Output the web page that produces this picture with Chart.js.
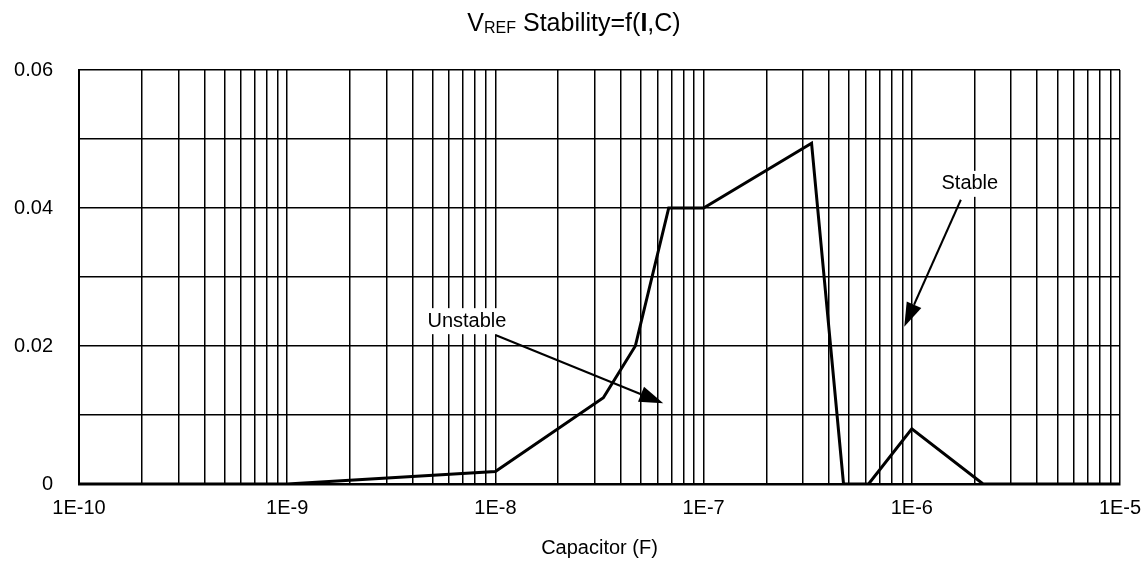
<!DOCTYPE html>
<html>
<head>
<meta charset="utf-8">
<script src="https://cdn.jsdelivr.net/npm/chart.js@4.4.1/dist/chart.umd.min.js"></script>
<style>
  html, body { margin: 0; padding: 0; background: #fff; }
  #wrap { width: 1144px; height: 564px; position: relative; }
</style>
</head>
<body>
<div id="wrap"><canvas id="chart"></canvas></div>
<script>
// values
const capacitance = [1e-10, 1e-9, 1e-8, 3.3e-8, 4.7e-8, 6.8e-8, 1e-7, 3.3e-7, 4.7e-7, 6.2e-7, 1e-6, 2.2e-6, 1e-5];
const stability = [0, 0, 0.0018, 0.0125, 0.02, 0.04, 0.04, 0.0494, 0, 0, 0.008, 0, 0];
const xTickLabels = ['1E-10', '1E-9', '1E-8', '1E-7', '1E-6', '1E-5'];
const yTickLabels = ['0', '0.02', '0.04', '0.06'];

// annotation text / arrow ends, in data units: [text, text x, text y, arrow from x, from y, to x, to y]
const unstableNote = ['Unstable', 7.3e-9, 0.0236, 1.0e-8, 0.0216, 6.4e-8, 0.0117];
const stableNote = ['Stable', 1.9e-6, 0.0435, 1.72e-6, 0.0412, 9.2e-7, 0.0228];

const FONT = '"Liberation Sans", Arial, sans-serif';

const points = capacitance.map((c, i) => ({x: c, y: stability[i]}));

// title with subscript and bold I
const titlePlugin = {
    id: 'vrefTitle',
    afterDraw(chart) {
        const ctx = chart.ctx;
        const parts = [
            {t: 'V', f: '25px ' + FONT, dy: 0},
            {t: 'REF', f: '16px ' + FONT, dy: 2},
            {t: ' Stability=f(', f: '25px ' + FONT, dy: 0},
            {t: 'I', f: 'bold 25px ' + FONT, dy: 0},
            {t: ',C)', f: '25px ' + FONT, dy: 0}
        ];
        ctx.save();
        ctx.fillStyle = '#000';
        ctx.textBaseline = 'alphabetic';
        let total = 0;
        parts.forEach(p => { ctx.font = p.f; p.w = ctx.measureText(p.t).width; total += p.w; });
        let x = 574 - total / 2;
        parts.forEach(p => {
            ctx.font = p.f;
            ctx.fillText(p.t, x, 31 + p.dy);
            x += p.w;
        });
        ctx.restore();
    }
};

const notesPlugin = {
    id: 'notes',
    afterDatasetsDraw(chart) {
        const ctx = chart.ctx;
        const xs = chart.scales.x, ys = chart.scales.y;
        [unstableNote, stableNote].forEach(n => {
            const tx = xs.getPixelForValue(n[1]), ty = ys.getPixelForValue(n[2]);
            const x1 = xs.getPixelForValue(n[3]), y1 = ys.getPixelForValue(n[4]);
            const x2 = xs.getPixelForValue(n[5]), y2 = ys.getPixelForValue(n[6]);
            ctx.save();
            // arrow shaft
            const ang = Math.atan2(y2 - y1, x2 - x1);
            const headLen = 24, headW = 8;
            ctx.strokeStyle = '#000';
            ctx.lineWidth = 2;
            ctx.beginPath();
            ctx.moveTo(x1, y1);
            ctx.lineTo(x2 - headLen * Math.cos(ang), y2 - headLen * Math.sin(ang));
            ctx.stroke();
            // arrow head
            ctx.fillStyle = '#000';
            ctx.beginPath();
            ctx.moveTo(x2, y2);
            ctx.lineTo(x2 - headLen * Math.cos(ang) + headW * Math.sin(ang), y2 - headLen * Math.sin(ang) - headW * Math.cos(ang));
            ctx.lineTo(x2 - headLen * Math.cos(ang) - headW * Math.sin(ang), y2 - headLen * Math.sin(ang) + headW * Math.cos(ang));
            ctx.closePath();
            ctx.fill();
            // label on white box
            ctx.font = '20px ' + FONT;
            const w = ctx.measureText(n[0]).width;
            ctx.fillStyle = '#fff';
            ctx.fillRect(tx - w / 2 - 3, ty - 13, w + 6, 26);
            ctx.fillStyle = '#000';
            ctx.textAlign = 'center';
            ctx.textBaseline = 'middle';
            ctx.fillText(n[0], tx, ty);
            ctx.restore();
        });
    }
};

new Chart(document.getElementById('chart'), {
    type: 'line',
    data: {
        datasets: [{
            data: points,
            borderColor: '#000',
            borderWidth: 3,
            pointRadius: 0,
            tension: 0,
            fill: false
        }]
    },
    plugins: [titlePlugin, notesPlugin],
    options: {
        responsive: true,
        maintainAspectRatio: false,
        animation: false,
        layout: {padding: {top: 70, right: 24, left: 0, bottom: 0}},
        plugins: {
            legend: {display: false},
            tooltip: {enabled: false}
        },
        scales: {
            x: {
                type: 'logarithmic',
                min: 1e-10,
                max: 1e-5,
                afterBuildTicks(scale) {
                    const ticks = [];
                    for (let e = -10; e < -5; e++) {
                        for (let m = 1; m < 10; m++) ticks.push({value: m * Math.pow(10, e)});
                    }
                    ticks.push({value: 1e-5});
                    scale.ticks = ticks;
                },
                afterFit(scale) {
                    scale.height = 80;
                    scale.paddingRight = 0;
                    scale.paddingLeft = 0;
                },
                ticks: {
                    autoSkip: false,
                    maxRotation: 0,
                    color: '#000',
                    font: {family: FONT, size: 20},
                    padding: 12,
                    callback(v) {
                        const e = Math.round(Math.log10(v));
                        if (Math.abs(v - Math.pow(10, e)) / v < 1e-6) return xTickLabels[e + 10];
                        return '';
                    }
                },
                grid: {color: '#000', lineWidth: 1.5, drawTicks: false},
                border: {color: '#000', width: 2.5},
                title: {
                    display: true,
                    text: 'Capacitor (F)',
                    color: '#000',
                    font: {family: FONT, size: 20},
                    padding: {top: 20}
                }
            },
            y: {
                min: 0,
                max: 0.06,
                afterFit(scale) { scale.width = 79; },
                ticks: {
                    stepSize: 0.01,
                    color: '#000',
                    font: {family: FONT, size: 20},
                    padding: 26,
                    callback(v) {
                        const k = Math.round(v * 100);
                        return k % 2 === 0 ? yTickLabels[k / 2] : '';
                    }
                },
                grid: {color: '#000', lineWidth: 1.5, drawTicks: false},
                border: {color: '#000', width: 2}
            }
        }
    }
});
</script>
</body>
</html>
